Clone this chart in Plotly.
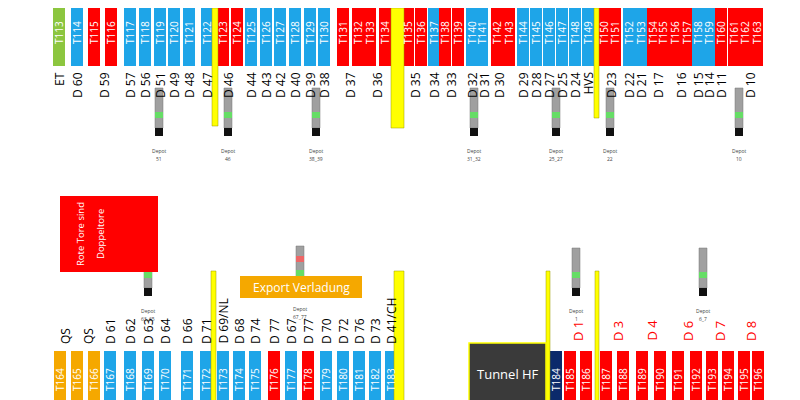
import plotly.graph_objects as go

RED, BLUE, GREEN, ORANGE, NAVY, YEL = "#ff0000", "#1ea5e8", "#8cc63f", "#f5a800", "#0b2a6b", "#ffff00"

top_gates = ["T%d" % i for i in range(113, 164)]
top_x = [51,69,86,103,122,137,152,166,181,199,215,229,243,258,272,287,302,316,335,350,362,377,
         400,413,426,437,450,464,474,489,501,515,528,541,554,567,580,596,607,621,633,645,655,667,679,690,701,713,726,737,749]
top_col = ["G","B","R","R","B","B","B","B","B","B","R","R","B","B","B","B","B","B","R","R","R","R",
           "R","R","B","R","R","B","B","R","R","B","B","B","B","B","B","R","R","B","B","R","R","R","R","B","B","R","R","R","R"]
top_labels = ["ET","D 60","D 59","D 57","D 56","D 51","D 49","D 48","D 47","D 46","D 44","D 43","D 42","D 40","D 39","D 38",
              "D 37","D 36","D 35","D 34","D 33","D 32","D 31","D 30","D 29","D 28","D 27","D 25","D 24","HVS","D 23","D 22",
              "D 21","D 17","D 16","D 15","D 14","D 11","D 10"]
top_label_x = [51,69,96,122,137,152,166,181,199,220,243,258,272,287,302,316,342,369,407,426,443,464,476,491,515,528,541,
               554,567,580,603,621,633,650,673,690,701,713,742]

bot_gates = ["T%d" % i for i in range(164, 197)]
bot_x = [52,69,86,102,122,140,157,179,198,215,231,247,266,283,300,318,335,351,367,383,
         548,562,578,598,615,634,652,670,688,704,720,736,750]
bot_col = ["O","O","O","B","B","B","B","B","B","B","B","B","R","B","R","B","B","B","B","B","N"] + ["R"] * 12
bot_labels = ["QS","QS","D 61","D 62","D 63","D 64","D 66","D 71","D 69/NL","D 68","D 74","D 77","D 67","D 77","D 70",
              "D 72","D 76","D 73","D 41/CH"]
bot_label_x = [57,80,102,122,140,157,179,198,215,231,247,266,283,300,318,335,351,367,383]
red_labels = ["D 1","D 3","D 4","D 6","D 7","D 8"]
red_label_x = [570,610,643,680,712,743]

lights_x = [151,220,308,466,548,602,731,140,292,568,695]
lights_y = [80,80,80,80,80,80,80,240,238,240,240]
lights_txt = ["51","46","38_39","31_32","25_27","22","10","63_65","67_77","1","6_7"]

cmap = {"R": RED, "B": BLUE, "G": GREEN, "O": ORANGE, "N": NAVY}
shapes, ann = [], []

def rect(x0, y0, x1, y1, fill, line=None, lw=0):
    shapes.append(dict(type="rect", x0=x0, y0=y0, x1=x1, y1=y1, fillcolor=fill,
                       line=dict(color=line or fill, width=lw), layer="below"))

def txt(x, y, t, size=11, color="black", angle=-90, **kw):
    ann.append(dict(x=x, y=y, text=t, showarrow=False, textangle=angle,
                    font=dict(size=size, color=color, family="Open Sans"), **kw))

for g, x, c in zip(top_gates, top_x, top_col):
    rect(x - 6, 0, x + 6, 58, cmap[c])
    txt(x, 25, g, 10, "white")
for t, x in zip(top_labels, top_label_x):
    txt(x, 62, t, 12, yanchor="top")
for g, x, c in zip(bot_gates, bot_x, bot_col):
    rect(x - 6, 343, x + 6, 400, cmap[c])
    txt(x, 372, g, 10, "white")
for t, x in zip(bot_labels, bot_label_x):
    txt(x, 338, t, 12, yanchor="bottom")
for t, x in zip(red_labels, red_label_x):
    txt(x, 335, t, 13, RED, yanchor="bottom")

# yellow separators
for x0, x1, y0, y1 in [(204, 210, 0, 118), (383, 396, 0, 120), (586, 591, 0, 110),
                       (203, 208, 263, 400), (386, 396, 263, 400), (538, 542, 263, 400), (587, 591, 263, 400)]:
    rect(x0, y0, x1, y1, YEL, "#999900", 0.5)

# light poles
for x, y, t in zip(lights_x, lights_y, lights_txt):
    rect(x - 4, y, x + 4, y + 40, "#a0a0a0", "#777", 0.5)
    rect(x - 4, y + 24, x + 4, y + 30, "#66dd66")
    rect(x - 4, y + 40, x + 4, y + 48, "#111")
    txt(x, y + 63, "Depot", 5, "#444", 0)
    txt(x, y + 71, t, 5, "#444", 0)
shapes.append(dict(type="rect", x0=288, y0=248, x1=296, y1=254, fillcolor="#ee6666", line=dict(width=0)))

rect(52, 188, 150, 264, RED)
txt(72, 226, "Rote Tore sind", 9.5, "white")
txt(92, 226, "Doppeltore", 9.5, "white")
rect(232, 268, 354, 290, ORANGE)
txt(293, 279, "Export Verladung", 12, "white", 0)
rect(461, 335, 538, 398, "#3a3a3a", YEL, 1.5)
txt(500, 366, "Tunnel HF", 13, "white", 0)

fig = go.Figure()
fig.update_layout(width=800, height=400, margin=dict(l=0, r=0, t=0, b=0),
                  plot_bgcolor="white", paper_bgcolor="white", shapes=shapes, annotations=ann,
                  xaxis=dict(range=[0, 800], visible=False, fixedrange=True),
                  yaxis=dict(range=[400, 0], visible=False, fixedrange=True), showlegend=False)
fig.write_html("out.html")
